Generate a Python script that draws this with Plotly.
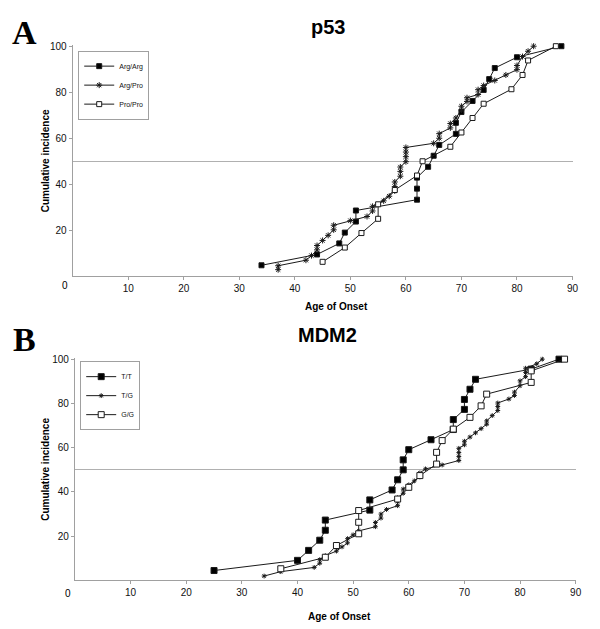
import plotly.graph_objects as go

# ---------------- Panel A: p53 ----------------
p53_argarg_age = [34, 44, 48, 49, 51, 51, 62, 62, 62, 64, 65, 66, 69, 69, 70, 72, 74, 75, 76, 80, 88]
p53_argarg_pct = [4.8, 9.5, 14.3, 19.0, 23.8, 28.6, 33.3, 38.1, 42.9, 47.6, 52.4, 57.1, 61.9, 66.7,
                  71.4, 76.2, 81.0, 85.7, 90.5, 95.2, 100]

p53_argpro_age = [37, 37, 42, 43, 44, 44, 45, 46, 47, 47, 50, 53, 54, 54, 56, 57, 58, 58, 58, 59, 59, 59,
                  60, 60, 60, 60, 65, 66, 66, 68, 68, 69, 70, 70, 71, 71, 73, 73, 74, 76, 78, 80, 80, 81, 82, 83]
p53_argpro_pct = [2.9, 4.6, 7.0, 9.0, 11.5, 13.4, 15.6, 17.8, 20.2, 22.2, 24.2, 26.0, 28.4, 30.4, 32.8,
                  34.8, 37.1, 39.0, 41.0, 43.5, 45.6, 47.5, 49.8, 52.0, 54.0, 56.0, 57.8, 60.0, 62.0, 64.5,
                  66.4, 68.8, 72.3, 73.9, 76.0, 77.6, 79.0, 81.1, 82.9, 85.1, 87.5, 89.8, 91.6, 95.5, 97.8, 100]

p53_propro_age = [45, 49, 52, 55, 55, 58, 62, 63, 68, 70, 72, 74, 79, 81, 82, 87]
p53_propro_pct = [6.3, 12.5, 18.8, 25.0, 31.3, 37.5, 43.8, 50.0, 56.3, 62.5, 68.8, 75.0, 81.3, 87.5, 93.8, 100]

# ---------------- Panel B: MDM2 ----------------
mdm2_tt_age = [25, 40, 42, 44, 45, 45, 53, 53, 57, 58, 59, 59, 60, 64, 68, 68, 70, 70, 71, 72, 82, 87]
mdm2_tt_pct = [4.5, 9.1, 13.6, 18.2, 22.7, 27.3, 31.8, 36.4, 40.9, 45.5, 50.0, 54.5, 59.1, 63.6, 68.2,
               72.7, 77.3, 81.8, 86.4, 90.9, 95.5, 100]

mdm2_tg_age = [34, 37, 43, 44, 44, 45, 47, 48, 49, 49, 50, 51, 54, 54, 55, 55, 56, 58, 58, 58, 59, 59, 60,
               61, 62, 62, 63, 66, 69, 69, 69, 69, 70, 70, 71, 72, 73, 74, 74, 75, 76, 76, 76, 78, 79, 79,
               80, 80, 81, 81, 81, 83, 84]
mdm2_tg_pct = [2.0, 4.0, 5.9, 7.8, 9.4, 11.2, 13.3, 15.2, 17.0, 18.9, 20.6, 22.4, 24.3, 26.2, 28.2, 30.0,
               32.1, 33.8, 35.6, 37.4, 39.4, 41.3, 43.2, 45.0, 46.8, 48.6, 50.4, 52.2, 54.2, 56.0, 57.8,
               59.7, 61.3, 62.9, 64.8, 66.7, 68.6, 70.6, 72.1, 74.5, 76.8, 78.6, 80.2, 82.0, 83.6, 85.1,
               88.0, 90.2, 92.1, 94.0, 95.9, 97.9, 100]

mdm2_gg_age = [37, 45, 47, 51, 51, 51, 58, 60, 62, 65, 65, 66, 68, 71, 73, 74, 82, 82, 88]
mdm2_gg_pct = [5.3, 10.5, 15.8, 21.1, 26.3, 31.6, 36.8, 42.1, 47.4, 52.6, 57.9, 63.2, 68.4, 73.7, 78.9,
               84.2, 89.5, 94.7, 100]

x_ticks = [10, 20, 30, 40, 50, 60, 70, 80, 90]
y_ticks = [20, 40, 60, 80, 100]
grid_vals = [50, 100]

FONT = "Arial, Liberation Sans, sans-serif"
LINE = "#1a1a1a"

fig = go.Figure()

def add(x, y, name, symbol, fill, size, xa, ya, legend):
    fig.add_trace(go.Scatter(
        x=x, y=y, name=name, mode="lines+markers", xaxis=xa, yaxis=ya, legend=legend,
        line=dict(color=LINE, width=1),
        marker=dict(symbol=symbol, size=size, color=fill, line=dict(color=LINE, width=1)),
        cliponaxis=False,
    ))

add(p53_argarg_age, p53_argarg_pct, "Arg/Arg", "square", "black", 5, "x", "y", "legend")
add(p53_argpro_age, p53_argpro_pct, "Arg/Pro", "asterisk-open", LINE, 5, "x", "y", "legend")
add(p53_propro_age, p53_propro_pct, "Pro/Pro", "square", "white", 5, "x", "y", "legend")

add(mdm2_tt_age, mdm2_tt_pct, "T/T", "square", "black", 6, "x2", "y2", "legend2")
add(mdm2_tg_age, mdm2_tg_pct, "T/G", "asterisk-open", LINE, 4, "x2", "y2", "legend2")
add(mdm2_gg_age, mdm2_gg_pct, "G/G", "square", "white", 6, "x2", "y2", "legend2")

W, H = 600, 629

def xaxis(dom):
    return dict(domain=dom, range=[0, 90], tickvals=x_ticks, showgrid=False, zeroline=False,
                showline=True, linecolor="#a0a0a0", linewidth=1, ticks="outside", ticklen=3,
                tickcolor="#a0a0a0", tickfont=dict(family=FONT, size=10, color="#111"))

def yaxis(dom, anchor):
    return dict(domain=dom, range=[0, 100.4], tickvals=y_ticks, showgrid=False, zeroline=False,
                showline=True, linecolor="#a0a0a0", linewidth=1, ticks="outside", ticklen=3,
                tickcolor="#a0a0a0", tickfont=dict(family=FONT, size=10, color="#111"),
                anchor=anchor,
                minor=dict(tickvals=grid_vals, showgrid=True, gridcolor="#b0b0b0", gridwidth=1, ticks=""))

xa_dom = [73.4 / W, 578.3 / W]
ya_dom = [1 - 273.5 / H, 1 - 40.6 / H]
xb_dom = [75.7 / W, 581.5 / W]
yb_dom = [1 - 580.1 / H, 1 - 356.1 / H]

legend_style = dict(font=dict(family=FONT, size=7, color="#111"), bgcolor="white",
                    bordercolor="#a0a0a0", borderwidth=1, itemwidth=30, tracegroupgap=0,
                    xanchor="left", yanchor="top", itemclick=False)

fig.update_layout(
    width=W, height=H, margin=dict(l=0, r=0, t=0, b=0),
    paper_bgcolor="white", plot_bgcolor="white", showlegend=True,
    xaxis=dict(xaxis(xa_dom), anchor="y"),
    yaxis=yaxis(ya_dom, "x"),
    xaxis2=dict(xaxis(xb_dom), anchor="y2"),
    yaxis2=yaxis(yb_dom, "x2"),
    legend=dict(legend_style, x=79 / W, y=1 - 46 / H),
    legend2=dict(legend_style, x=81 / W, y=1 - 359 / H),
)

def ann(text, x, y, size, bold=True, family=FONT, angle=0):
    t = f"<b>{text}</b>" if bold else text
    fig.add_annotation(text=t, x=x / W, y=1 - y / H, xref="paper", yref="paper",
                       showarrow=False, xanchor="center", yanchor="middle", textangle=angle,
                       font=dict(family=family, size=size, color="black"))

SERIF = "Times New Roman, Liberation Serif, serif"
ann("A", 25, 28, 34, family=SERIF)
ann("B", 25, 337, 34, family=SERIF)
ann("p53", 331, 22, 20)
ann("MDM2", 331, 333, 20)
ann("Cumulative incidence", 46, 157, 10, angle=-90)
ann("Cumulative incidence", 46, 468, 10, angle=-90)
ann("Age of Onset", 340, 304, 10)
ann("Age of Onset", 343, 616, 10)
ann("0", 66, 283, 10, bold=False)
ann("0", 69, 593, 10, bold=False)

fig.write_html(
    "out.html",
    config={"displayModeBar": False, "staticPlot": True},
    post_script="document.body.style.margin='0';document.body.style.padding='0';"
                "document.body.style.overflow='hidden';",
)
